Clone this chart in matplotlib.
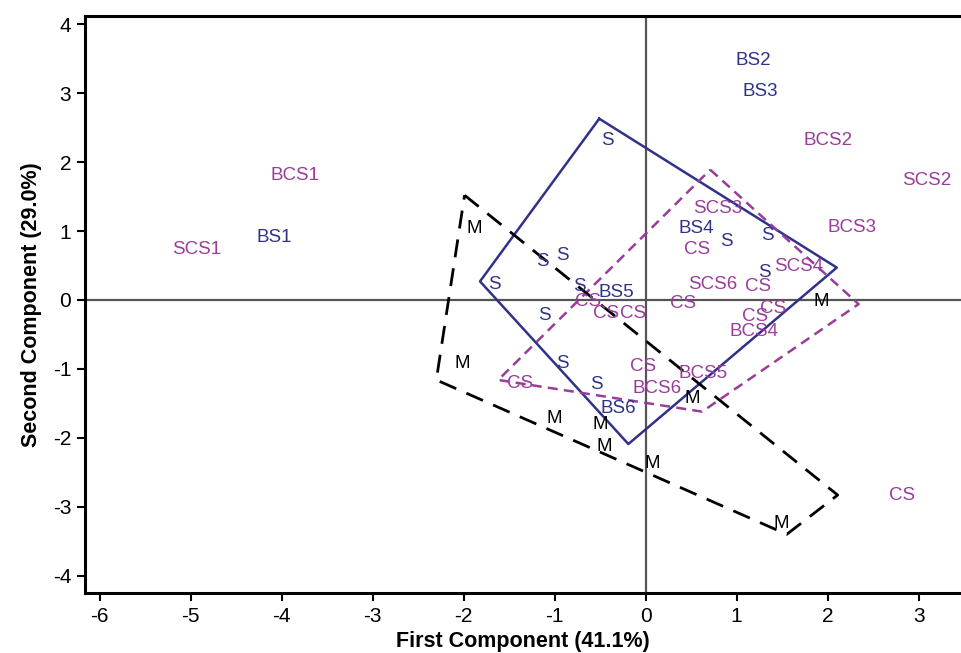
import matplotlib
matplotlib.use("Agg")
from matplotlib import pyplot as plt

plt.rcParams['font.family'] = ['Liberation Sans', 'DejaVu Sans']
plt.rcParams['axes.unicode_minus'] = False

# sample scores (label positions)
s_x = [-0.42, -1.13, -0.92, -1.66, -0.73, -1.11, -0.92, -0.54, 0.89, 1.34, 1.30]
s_y = [2.31, 0.56, 0.64, 0.22, 0.19, -0.22, -0.92, -1.23, 0.85, 0.93, 0.40]

bs_names = ['BS1', 'BS2', 'BS3', 'BS4', 'BS5', 'BS6']
bs_x = [-4.08, 1.18, 1.26, 0.56, -0.32, -0.30]
bs_y = [0.90, 3.48, 3.02, 1.04, 0.11, -1.57]

cs_names = ['BCS1', 'BCS2', 'BCS3', 'BCS4', 'BCS5', 'BCS6',
            'SCS1', 'SCS2', 'SCS3', 'SCS4', 'SCS6']
cs_x = [-3.85, 2.00, 2.27, 1.19, 0.63, 0.13, -4.93, 3.09, 0.79, 1.68, 0.74]
cs_y = [1.80, 2.31, 1.05, -0.46, -1.06, -1.28, 0.73, 1.73, 1.32, 0.48, 0.22]

c_x = [0.56, 1.23, 0.41, 1.40, 1.20, -0.63, -0.43, -0.14, -0.03, -1.38, 2.82]
c_y = [0.73, 0.19, -0.05, -0.12, -0.24, -0.02, -0.19, -0.19, -0.97, -1.21, -2.84]

m_x = [-1.88, -2.02, -1.00, -0.50, -0.45, 0.07, 0.51, 1.93, 1.49]
m_y = [1.04, -0.92, -1.72, -1.81, -2.13, -2.37, -1.43, -0.02, -3.24]

# group outlines
blue_hull_x = [-0.51, 2.10, -0.19, -1.82]
blue_hull_y = [2.63, 0.47, -2.09, 0.27]
pink_hull_x = [0.71, 2.34, 0.62, -1.62]
pink_hull_y = [1.89, -0.06, -1.62, -1.16]
black_hull_x = [-1.99, 2.11, 1.55, -2.30]
black_hull_y = [1.52, -2.83, -3.40, -1.16]

navy = '#30328a'
pink = '#9a3c9a'

fig = plt.figure(figsize=(9.61, 6.53), dpi=100)
ax = fig.add_axes([0.0885, 0.092, 0.9115, 0.8835])

ax.axhline(0, color='#555555', lw=1.6, zorder=1)
ax.axvline(0, color='#555555', lw=1.6, zorder=1)

ax.plot(blue_hull_x + blue_hull_x[:1], blue_hull_y + blue_hull_y[:1],
        color=navy, lw=1.8, zorder=2)
ax.plot(pink_hull_x + pink_hull_x[:1], pink_hull_y + pink_hull_y[:1],
        color=pink, lw=1.8, ls=(0, (4, 2.5)), zorder=2)
ax.plot(black_hull_x + black_hull_x[:1], black_hull_y + black_hull_y[:1],
        color='black', lw=2.0, ls=(0, (6.5, 4)), zorder=2)

fs = 13.5
for x, y in zip(s_x, s_y):
    ax.text(x, y, 'S', color=navy, fontsize=fs, ha='center', va='center', zorder=3)
for name, x, y in zip(bs_names, bs_x, bs_y):
    ax.text(x, y, name, color=navy, fontsize=fs, ha='center', va='center', zorder=3)
for name, x, y in zip(cs_names, cs_x, cs_y):
    ax.text(x, y, name, color=pink, fontsize=fs, ha='center', va='center', zorder=3)
for x, y in zip(c_x, c_y):
    ax.text(x, y, 'CS', color=pink, fontsize=fs, ha='center', va='center', zorder=3)
for x, y in zip(m_x, m_y):
    ax.text(x, y, 'M', color='black', fontsize=fs, ha='center', va='center', zorder=3)

ax.set_xlim(-6.16, 3.465)
ax.set_ylim(-4.25, 4.12)
ax.set_xticks(range(-6, 4))
ax.set_yticks(range(-4, 5))
ax.tick_params(labelsize=15, length=6, width=1.5, direction='out', pad=4)

for s in ['left', 'bottom', 'top']:
    ax.spines[s].set_linewidth(2.2)
ax.spines['right'].set_visible(False)

ax.set_xlabel('First Component (41.1%)', fontsize=15.5, fontweight='bold', labelpad=4)
ax.set_ylabel('Second Component (29.0%)', fontsize=15.5, fontweight='bold', labelpad=8)

fig.savefig('out.png', dpi=100)
